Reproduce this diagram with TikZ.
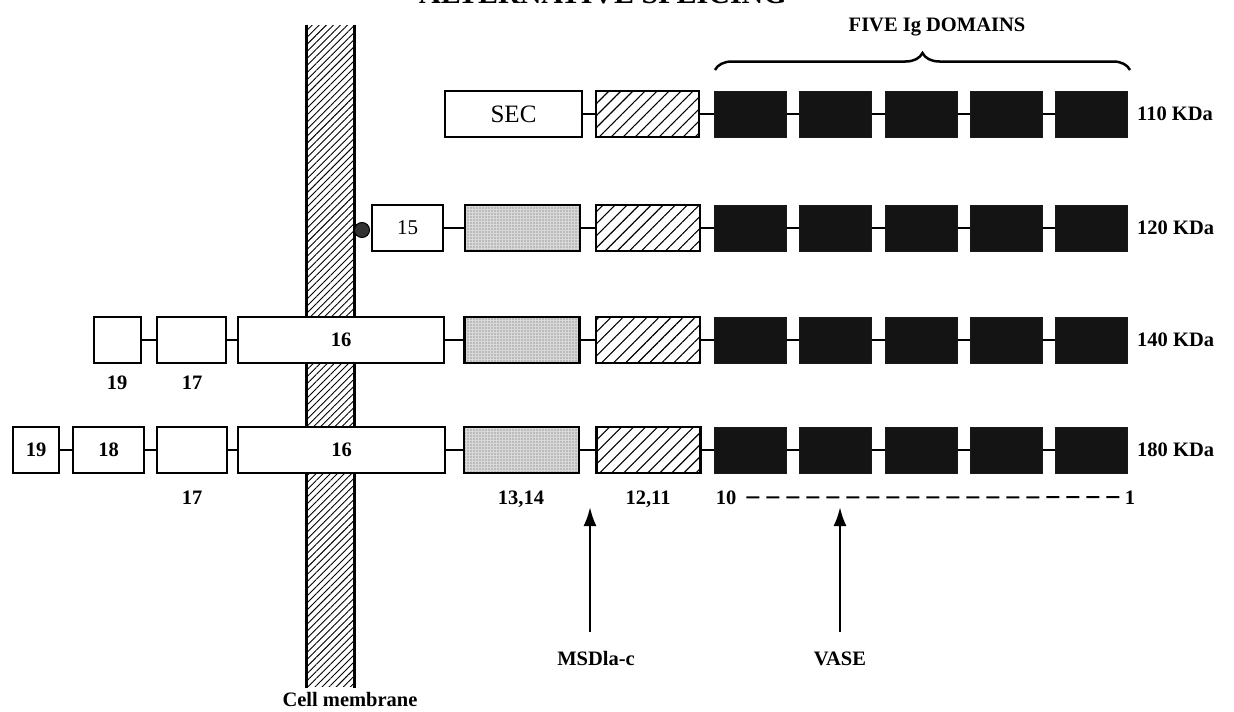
\documentclass[tikz,border=0pt]{standalone}
\usepackage{fontspec}
\setmainfont{Liberation Serif}
\usetikzlibrary{patterns.meta,decorations.pathreplacing,arrows.meta}
\begin{document}
\begin{tikzpicture}[x=1pt,y=-1pt,
  box/.style={draw, line width=2.2pt, inner sep=0pt, minimum height=46pt, fill=white},
  hatchbox/.style={draw, line width=2.2pt, inner sep=0pt, minimum height=46pt,
     pattern={Lines[angle=45,distance=8.5pt,line width=1.1pt]}},
  stipbox/.style={draw, line width=2.2pt, inner sep=0pt, minimum height=46pt,
     preaction={fill=gray!30}, pattern={Dots[distance=3pt,radius=0.7pt]}, pattern color=black!65},
  blkbox/.style={draw=black!90, line width=1pt, inner sep=0pt, minimum height=46pt, minimum width=72pt, fill=black!92},
  conn/.style={line width=2pt},
  lab/.style={font=\fontsize{20.5}{24}\selectfont\bfseries, inner sep=0pt},
  rlab/.style={font=\fontsize{25}{28}\selectfont, inner sep=0pt},
  arr/.style={line width=2.5pt, -{Latex[length=19pt,width=13pt]}}
]
\useasboundingbox (0,0) rectangle (1234,712);

% title (cut off at top)
\node[font=\fontsize{30}{34}\selectfont\bfseries, anchor=base, inner sep=0pt] (title) at (603,3.5) {ALTERNATIVE SPLICING};

% membrane
\node[draw=none, inner sep=0pt, minimum width=47pt, minimum height=661pt,
      pattern={Lines[angle=45,distance=5pt,line width=0.9pt]}] (mem) at (330.5,355.5) {};
\draw[line width=3pt] (mem.north west) -- ([yshift=-2pt]mem.south west);
\draw[line width=3pt] (mem.north east) -- ([yshift=-2pt]mem.south east);
\node[lab, anchor=base] (cm) at (350,706) {Cell membrane};

% FIVE Ig DOMAINS
\node[lab, anchor=base] (five) at (937,31) {FIVE Ig DOMAINS};
\coordinate (brl) at (715,70);
\coordinate (brr) at (1130,70);
\draw[line width=2.5pt, decorate, decoration={brace, amplitude=17pt}] (brl) -- (brr);

% ---------- Row 1 : 110 KDa ----------
\node[box, minimum width=137pt, rlab] (sec) at (513.5,114) {SEC};
\node[hatchbox, minimum width=103pt] (h1) at (647.5,114) {};
\foreach \i/\xc in {1/750,2/835.5,3/921,4/1006,5/1091}{
  \node[blkbox] (a\i) at (\xc,114) {};
}
\draw[conn] (sec) -- (h1);
\draw[conn] (h1) -- (a1);
\draw[conn] (a1) -- (a2); \draw[conn] (a2) -- (a3); \draw[conn] (a3) -- (a4); \draw[conn] (a4) -- (a5);
\node[lab, anchor=west] (k110) at (1137,114) {110 KDa};

% ---------- Row 2 : 120 KDa ----------
\node[circle, draw=black, line width=1pt, fill=black!80, minimum size=15pt, inner sep=0pt] (dot) at (362,230) {};
\node[box, minimum width=71pt, font=\fontsize{21}{24}\selectfont] (b15) at (407.5,228) {15};
\node[stipbox, minimum width=115pt] (s2) at (522.5,228) {};
\node[hatchbox, minimum width=104pt] (h2) at (648,228) {};
\foreach \i/\xc in {1/750,2/835.5,3/921,4/1006,5/1091}{
  \node[blkbox] (b\i) at (\xc,228) {};
}
\draw[conn] (b15) -- (s2);
\draw[conn] (s2) -- (h2);
\draw[conn] (h2) -- (b1);
\draw[conn] (b1) -- (b2); \draw[conn] (b2) -- (b3); \draw[conn] (b3) -- (b4); \draw[conn] (b4) -- (b5);
\node[lab, anchor=west] (k120) at (1137,228) {120 KDa};

% ---------- Row 3 : 140 KDa ----------
\node[box, minimum width=47pt] (c19) at (117.5,340) {};
\node[box, minimum width=69pt] (c17) at (191.5,340) {};
\node[box, minimum width=206pt, lab, minimum height=46pt, draw, line width=2.2pt] (c16) at (341,340) {16};
\node[stipbox, minimum width=115pt] (s3) at (522,340) {};
\node[hatchbox, minimum width=104pt] (h3) at (648,340) {};
\foreach \i/\xc in {1/750,2/835.5,3/921,4/1006,5/1091}{
  \node[blkbox] (c\i) at (\xc,340) {};
}
\draw[conn] (c19) -- (c17);
\draw[conn] (c17) -- (c16);
\draw[conn] (c16) -- (s3);
\draw[conn] (s3) -- (h3);
\draw[conn] (h3) -- (c1);
\draw[conn] (c1) -- (c2); \draw[conn] (c2) -- (c3); \draw[conn] (c3) -- (c4); \draw[conn] (c4) -- (c5);
\node[lab, anchor=west] (k140) at (1137,340) {140 KDa};
\node[lab, anchor=base] (l19a) at (117,389) {19};
\node[lab, anchor=base] (l17a) at (192,389) {17};

% ---------- Row 4 : 180 KDa ----------
\node[box, minimum width=46pt, lab, minimum height=46pt, draw, line width=2.2pt] (d19) at (36,450) {19};
\node[box, minimum width=71pt, lab, minimum height=46pt, draw, line width=2.2pt] (d18) at (108.5,450) {18};
\node[box, minimum width=70pt] (d17) at (192,450) {};
\node[box, minimum width=207pt, lab, minimum height=46pt, draw, line width=2.2pt] (d16) at (341.5,450) {16};
\node[stipbox, minimum width=115pt] (s4) at (521.5,450) {};
\node[hatchbox, minimum width=104pt] (h4) at (648.5,450) {};
\foreach \i/\xc in {1/750,2/835.5,3/921,4/1006,5/1091}{
  \node[blkbox] (d\i) at (\xc,450) {};
}
\draw[conn] (d19) -- (d18);
\draw[conn] (d18) -- (d17);
\draw[conn] (d17) -- (d16);
\draw[conn] (d16) -- (s4);
\draw[conn] (s4) -- (h4);
\draw[conn] (h4) -- (d1);
\draw[conn] (d1) -- (d2); \draw[conn] (d2) -- (d3); \draw[conn] (d3) -- (d4); \draw[conn] (d4) -- (d5);
\node[lab, anchor=west] (k180) at (1137,450) {180 KDa};

% labels under row 4
\node[lab, anchor=base] (l17b) at (192,504) {17};
\node[lab, anchor=base] (l1314) at (521,504) {13,14};
\node[lab, anchor=base] (l1211) at (648,504) {12,11};
\node[lab, anchor=base] (l10) at (726,504) {10};
\node[lab, anchor=base] (l1) at (1130,504) {1};
\draw[line width=2pt, dash pattern=on 13pt off 7pt] ([xshift=10pt]l10.east) -- ([xshift=-5pt]l1.west);

% arrows
\node[lab, anchor=base] (msd) at (596,665) {MSDla-c};
\node[lab, anchor=base] (vase) at (840,665) {VASE};
\coordinate (msdbot) at (590,632);
\coordinate (msdtip) at (590,507);
\coordinate (vasebot) at (840,632);
\coordinate (vasetip) at (840,507);
\draw[arr] (msdbot) -- (msdtip);
\draw[arr] (vasebot) -- (vasetip);
\end{tikzpicture}
\end{document}
